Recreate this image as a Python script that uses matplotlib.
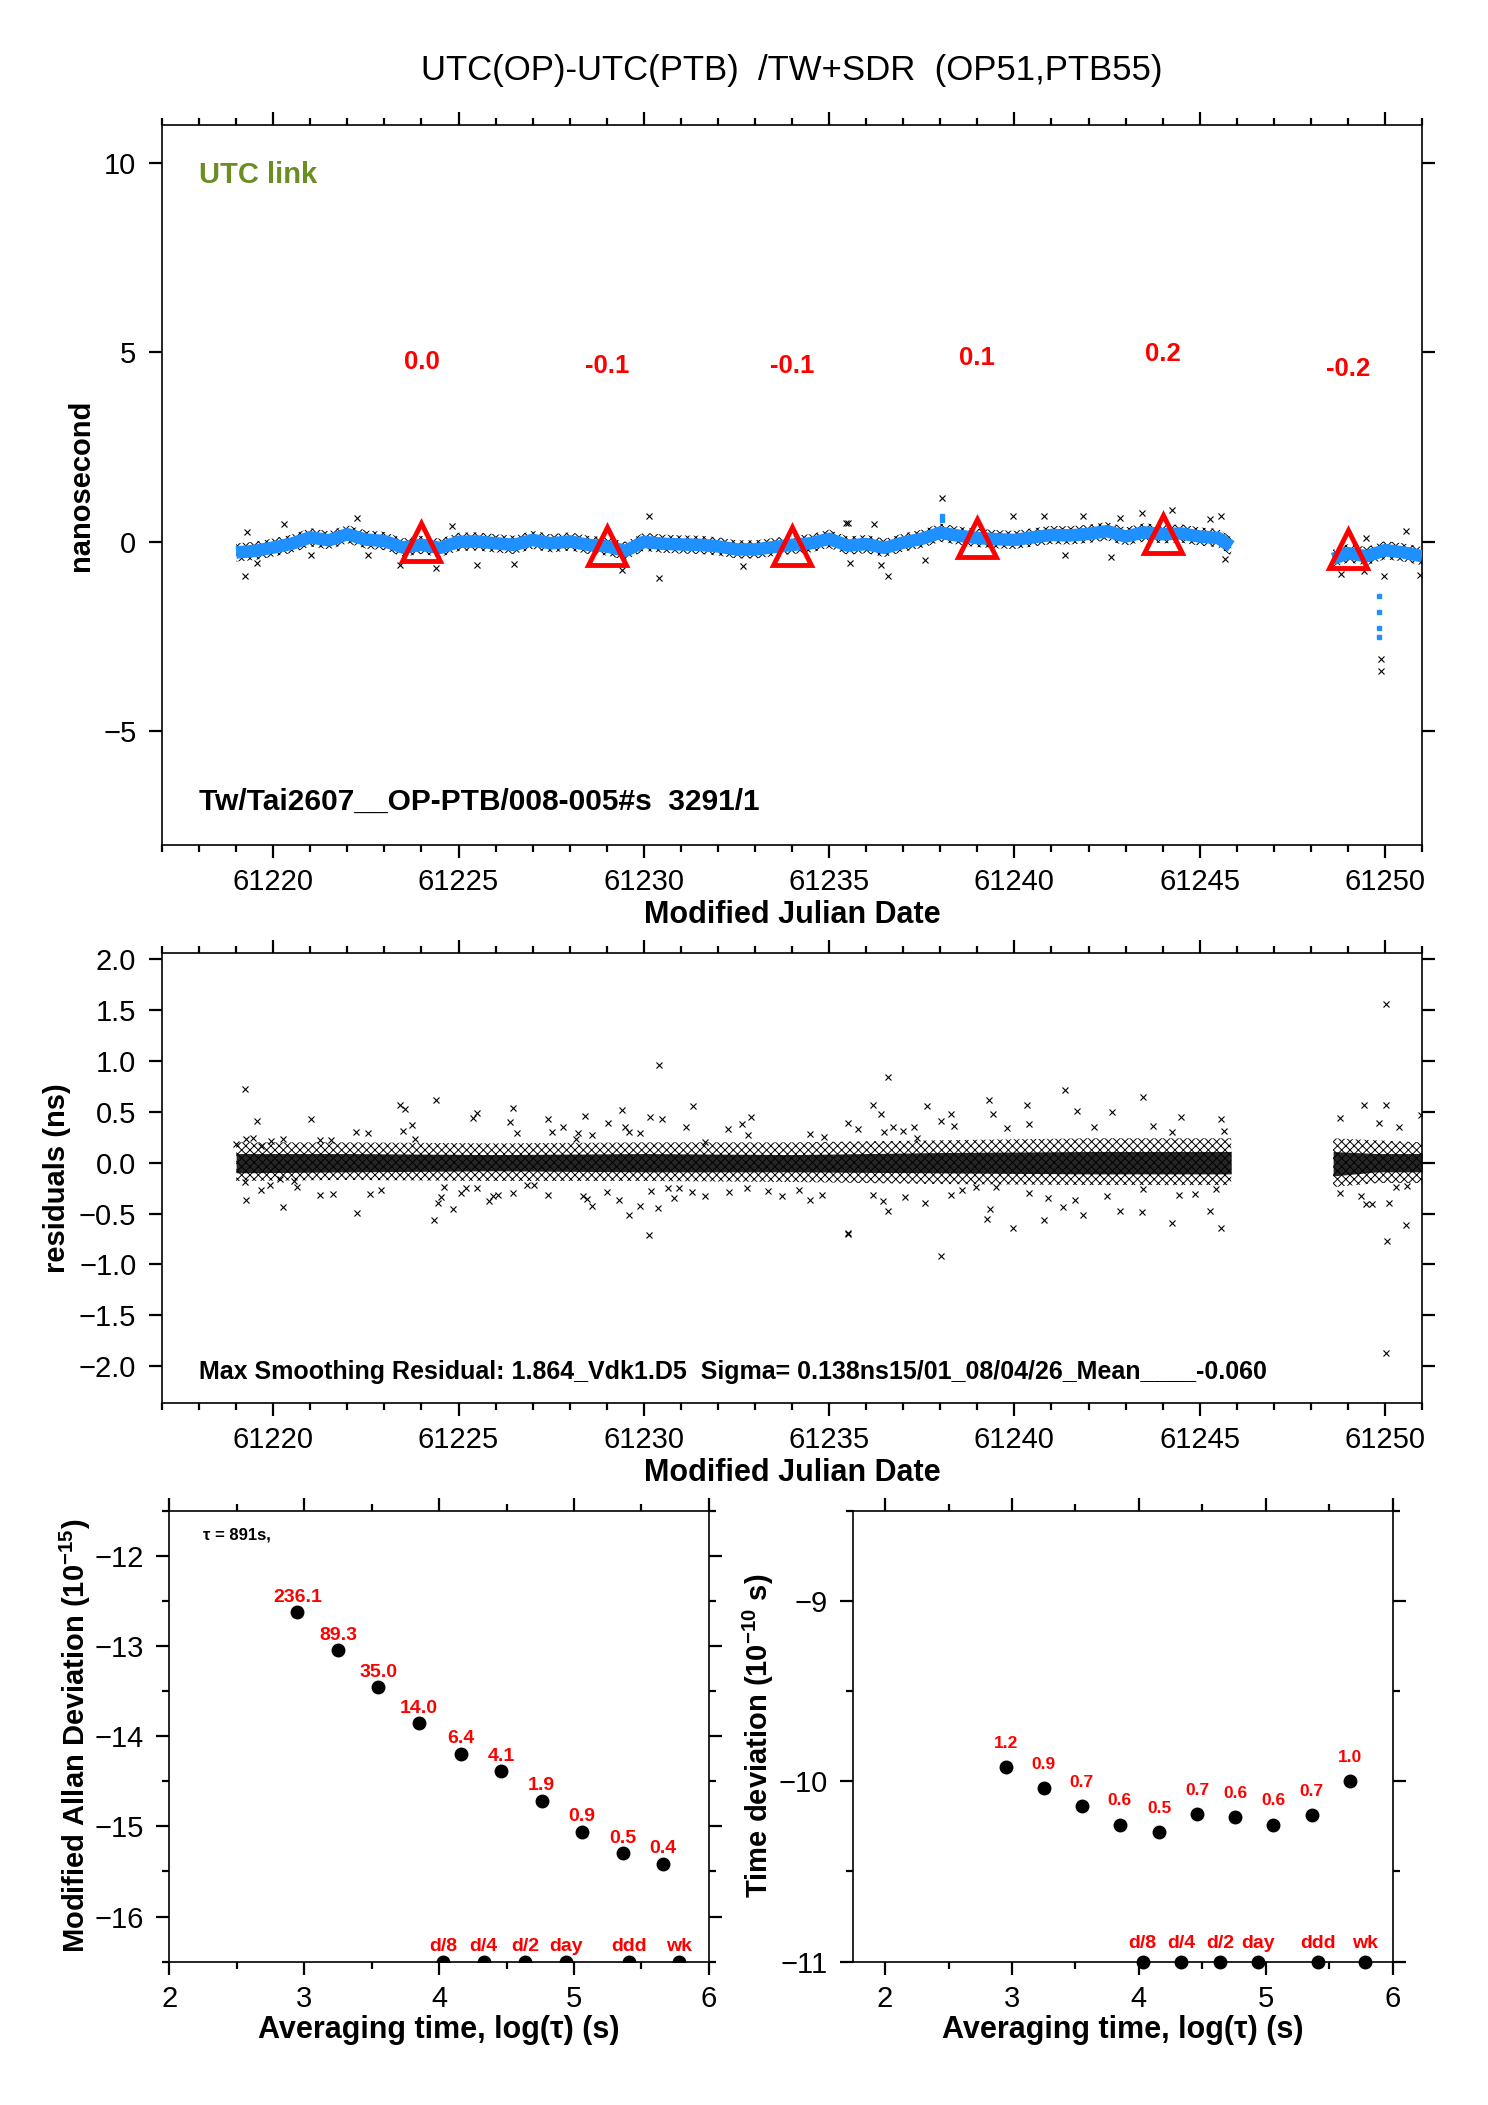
import numpy as np
import matplotlib
matplotlib.use('Agg')
import matplotlib.pyplot as plt
from matplotlib.ticker import MultipleLocator

plt.rcParams['font.family'] = ['Liberation Sans', 'DejaVu Sans']
plt.rcParams['mathtext.fontset'] = 'custom'
plt.rcParams['mathtext.rm'] = 'Liberation Sans'
plt.rcParams['mathtext.bf'] = 'Liberation Sans:bold'
plt.rcParams['hatch.linewidth'] = 0.7

# ---------------- data ----------------
# smoothed UTC(OP)-UTC(PTB) band (ns), two segments
band_mjd_a = [61219.0, 61219.5, 61220.0, 61220.5, 61221.0, 61221.5, 61222.0, 61222.5,
              61223.0, 61223.5, 61224.0, 61224.5, 61225.0, 61225.5, 61226.0, 61226.5,
              61227.0, 61227.5, 61228.0, 61228.5, 61229.0, 61229.5, 61230.0, 61230.5,
              61231.0, 61231.5, 61232.0, 61232.5, 61233.0, 61233.5, 61234.0, 61234.5,
              61235.0, 61235.5, 61236.0, 61236.5, 61237.0, 61237.5, 61238.0, 61238.5,
              61239.0, 61239.5, 61240.0, 61240.5, 61241.0, 61241.5, 61242.0, 61242.5,
              61243.0, 61243.5, 61244.0, 61244.5, 61245.0, 61245.5, 61245.85]
band_ns_a = [-0.28, -0.24, -0.15, -0.05, 0.12, 0.04, 0.20, 0.06,
             0.02, -0.15, -0.08, -0.16, 0.00, 0.01, -0.04, -0.08,
             0.05, -0.04, 0.01, -0.08, -0.12, -0.24, 0.00, -0.05,
             -0.07, -0.08, -0.12, -0.20, -0.20, -0.14, -0.08, -0.04,
             0.08, -0.10, -0.06, -0.16, -0.02, 0.08, 0.24, 0.16,
             0.10, 0.07, 0.05, 0.12, 0.18, 0.17, 0.21, 0.28,
             0.14, 0.25, 0.20, 0.22, 0.14, 0.10, -0.12]
band_mjd_b = [61248.6, 61249.0, 61249.5, 61250.0, 61250.5, 61251.0]
band_ns_b = [-0.45, -0.30, -0.38, -0.22, -0.28, -0.38]
# half-width of the scatter of raw points around the band (ns)
fringe_ns = 0.24

# isolated blue points
blue_mjd = [61238.05, 61238.05, 61249.85, 61249.85, 61249.85, 61249.85]
blue_ns = [0.69, 0.58, -1.44, -1.86, -2.28, -2.52]

# raw points away from the band (ns)
raw_mjd = [61219.23, 61219.29, 61220.29, 61222.27, 61223.42, 61224.40, 61224.82, 61225.50,
           61226.50, 61230.13, 61230.40, 61229.40, 61232.68, 61235.45, 61221.03, 61222.55,
           61219.56, 61235.50, 61235.55, 61236.20, 61236.60, 61236.40, 61237.60, 61238.05,
           61239.97, 61240.80, 61241.36, 61241.84, 61242.60, 61242.86, 61243.44, 61244.25,
           61245.27, 61245.57, 61245.67, 61248.80, 61249.42, 61249.98, 61250.56, 61250.95,
           61249.90, 61249.90, 61249.50]
raw_ns = [-0.90, 0.25, 0.47, 0.62, -0.61, -0.68, 0.43, -0.62,
          -0.59, 0.67, -0.96, -0.74, -0.63, 0.49, -0.34, -0.34,
          -0.56, 0.51, -0.55, 0.47, -0.90, -0.62, -0.47, 1.15,
          0.69, 0.69, -0.34, 0.67, -0.41, 0.64, 0.77, 0.83,
          0.61, 0.67, -0.45, -0.85, -0.76, -0.90, 0.29, -0.87,
          -3.10, -3.42, 0.10]

# 5-day mean values shown as triangles
tri_mjd = [61224, 61229, 61234, 61239, 61244, 61249]
tri_ns = [0.0, -0.1, -0.1, 0.1, 0.2, -0.2]
tri_text = ['0.0', '-0.1', '-0.1', '0.1', '0.2', '-0.2']

# residuals: dense core envelope (ns)
core_mjd_a = [61219.0, 61222.0, 61226.0, 61230.0, 61234.0, 61238.0, 61242.0, 61245.85]
core_hi_a = [0.09, 0.09, 0.08, 0.09, 0.08, 0.10, 0.11, 0.11]
core_lo_a = [-0.10, -0.09, -0.08, -0.09, -0.09, -0.10, -0.11, -0.11]
halo_hi_a = [0.20, 0.20, 0.19, 0.20, 0.20, 0.22, 0.24, 0.24]
halo_lo_a = [-0.18, -0.17, -0.18, -0.18, -0.19, -0.21, -0.22, -0.22]
core_mjd_b = [61248.6, 61249.8, 61251.0]
core_hi_b = [0.11, 0.09, 0.09]
core_lo_b = [-0.13, -0.09, -0.09]
halo_hi_b = [0.24, 0.22, 0.20]
halo_lo_b = [-0.24, -0.20, -0.20]

# residual outliers
res_mjd = [61219.23, 61219.57, 61219.00, 61219.26, 61219.45, 61219.66, 61219.95, 61220.26,
           61219.24, 61219.26, 61219.66, 61219.90, 61220.19, 61220.26, 61220.65, 61220.55,
           61221.27, 61221.61, 61222.27, 61222.60, 61222.91, 61221.01, 61221.25, 61221.55,
           61222.24, 61222.55, 61223.42, 61223.56, 61223.74, 61223.49, 61223.83, 61224.40,
           61224.34, 61224.44, 61224.52, 61224.84, 61224.62, 61225.08, 61225.20, 61225.50,
           61225.40, 61225.50, 61225.82, 61225.94, 61226.06, 61226.40, 61226.48, 61226.58,
           61226.48, 61226.85, 61227.05, 61227.41, 61227.51, 61227.41, 61227.81, 61228.17,
           61228.23, 61228.41, 61228.59, 61228.35, 61228.47, 61228.61, 61229.01, 61229.04,
           61229.40, 61229.49, 61229.61, 61229.91, 61229.34, 61229.61, 61229.91, 61230.13,
           61230.16, 61230.49, 61230.37, 61230.19, 61230.40, 61230.64, 61230.82, 61231.14,
           61231.32, 61230.94, 61231.30, 61231.66, 61231.64, 61232.26, 61232.30, 61232.66,
           61232.90, 61232.80, 61232.78, 61233.34, 61233.74, 61234.19, 61234.49, 61234.82,
           61234.49, 61235.51, 61235.51,
           61234.86, 61235.50, 61235.79, 61236.18, 61236.39, 61236.60, 61236.72, 61236.48,
           61236.99, 61237.29, 61237.36, 61237.63, 61238.02, 61238.29, 61238.38, 61238.02,
           61238.29, 61238.59, 61238.97, 61236.18, 61236.46, 61236.60, 61237.05, 61237.59,
           61239.31, 61239.43, 61239.80, 61240.33, 61240.39, 61239.25, 61239.35, 61239.49,
           61239.97, 61240.39, 61240.81, 61240.91, 61241.36, 61241.68, 61241.30, 61241.63,
           61241.85, 61242.62, 61242.14, 61242.50, 61242.86, 61243.46, 61243.74, 61243.44,
           61243.46, 61244.24, 61244.49, 61244.26, 61244.45, 61244.88, 61245.27, 61245.57,
           61245.65, 61245.57, 61245.45,
           61248.79, 61248.79, 61249.44, 61249.34, 61249.48, 61249.64, 61249.84, 61250.02,
           61250.02, 61250.06, 61250.02, 61250.11, 61250.56, 61250.38, 61250.98, 61250.30,
           61250.59]
res_ns = [0.72, 0.41, 0.18, 0.23, 0.24, 0.16, 0.21, 0.23,
          -0.19, -0.37, -0.27, -0.22, -0.16, -0.44, -0.24, -0.18,
          -0.32, -0.31, -0.49, -0.31, -0.27, 0.43, 0.22, 0.22,
          0.30, 0.29, 0.57, 0.53, 0.37, 0.31, 0.23, 0.62,
          -0.56, -0.40, -0.34, -0.46, -0.24, -0.30, -0.25, -0.25,
          0.44, 0.49, -0.38, -0.33, -0.32, 0.40, 0.54, 0.29,
          -0.30, -0.22, -0.22, 0.43, 0.30, -0.32, 0.35, 0.23,
          0.29, 0.46, 0.27, -0.33, -0.36, -0.43, -0.29, 0.39,
          0.52, 0.35, 0.30, 0.29, -0.37, -0.51, -0.43, -0.71,
          0.45, 0.43, -0.45, -0.28, 0.96, -0.25, -0.35, 0.35,
          0.56, -0.25, -0.29, -0.33, 0.20, 0.33, -0.29, 0.38,
          0.45, 0.27, -0.25, -0.28, -0.33, -0.27, -0.37, -0.32,
          0.28, 0.39, -0.70,
          0.25, -0.69, 0.33, 0.57, 0.48, 0.84, 0.35, 0.30,
          0.31, 0.35, 0.24, 0.56, 0.41, 0.48, 0.36, -0.92,
          -0.32, -0.27, -0.24, -0.32, -0.38, -0.47, -0.34, -0.40,
          0.62, 0.48, 0.34, 0.57, 0.38, -0.55, -0.46, -0.24,
          -0.64, -0.30, -0.56, -0.35, 0.71, 0.51, -0.44, -0.37,
          -0.51, 0.50, 0.35, -0.33, -0.47, 0.65, 0.36, -0.48,
          -0.26, 0.30, 0.45, -0.59, -0.32, -0.31, -0.47, 0.43,
          0.31, -0.64, -0.26,
          0.44, -0.30, 0.57, -0.33, -0.41, -0.41, 0.39, 0.57,
          1.56, -0.77, -1.87, -0.40, -0.61, 0.35, 0.47, -0.24,
          -0.23]

# stability: log10(tau), log10(mod ADEV), log10(TDEV)
log_tau = [2.95, 3.25, 3.55, 3.85, 4.16, 4.46, 4.76, 5.06, 5.36, 5.66]
log_mdev = [-12.63, -13.05, -13.46, -13.86, -14.20, -14.39, -14.72, -15.06, -15.30, -15.42]
mdev_text = ['236.1', '89.3', '35.0', '14.0', '6.4', '4.1', '1.9', '0.9', '0.5', '0.4']
log_tdev = [-9.92, -10.04, -10.14, -10.24, -10.28, -10.18, -10.20, -10.24, -10.19, -10.00]
tdev_text = ['1.2', '0.9', '0.7', '0.6', '0.5', '0.7', '0.6', '0.6', '0.7', '1.0']
span_log = [4.03, 4.33, 4.64, 4.94, 5.41, 5.78]
span_text = ['d/8', 'd/4', 'd/2', 'day', 'ddd', 'wk']

RED = '#FF0000'
BLUE = '#1E90FF'
OLIVE = '#6B8E23'


def style(ax, xmaj, xmin, ymaj, ymin=None):
    ax.xaxis.set_major_locator(MultipleLocator(xmaj))
    ax.xaxis.set_minor_locator(MultipleLocator(xmin))
    ax.yaxis.set_major_locator(MultipleLocator(ymaj))
    if ymin:
        ax.yaxis.set_minor_locator(MultipleLocator(ymin))
    ax.tick_params(which='both', direction='out', top=True, right=True,
                   width=1.6, labelsize=21)
    ax.tick_params(which='major', length=9.5)
    ax.tick_params(which='minor', length=5)
    ax.tick_params(axis='x', pad=7)
    ax.tick_params(axis='y', pad=9)
    for s in ax.spines.values():
        s.set_linewidth(1.2)


fig = plt.figure(figsize=(14.88, 21.05), dpi=100)

# ---------------- top: time series ----------------
ax1 = fig.add_axes([0.1089, 0.5986, 0.8468, 0.3420])
for mx, my in ((band_mjd_a, band_ns_a), (band_mjd_b, band_ns_b)):
    my = np.array(my)
    ax1.fill_between(mx, my - fringe_ns, my + fringe_ns, facecolor='none', edgecolor='k',
                     hatch='xxxx', linewidth=0, zorder=2)
    ax1.plot(mx, my, color=BLUE, lw=9, solid_capstyle='butt', zorder=3)
ax1.plot(raw_mjd, raw_ns, 'x', color='k', ms=5, mew=0.8, ls='none', zorder=2)
ax1.plot(blue_mjd, blue_ns, 's', color=BLUE, ms=2.5, ls='none', zorder=3)
ax1.plot(tri_mjd, tri_ns, '^', ms=27, mfc='none', mec=RED, mew=3.5, ls='none', zorder=4)
for x, v, t in zip(tri_mjd, tri_ns, tri_text):
    ax1.text(x, 4.75 + v, t, color=RED, fontsize=18.5, fontweight='bold',
             ha='center', va='center')
ax1.text(0.029, 0.93, 'UTC link', transform=ax1.transAxes, color=OLIVE,
         fontsize=21, fontweight='bold', ha='left', va='center')
ax1.text(0.029, 0.06, 'Tw/Tai2607__OP-PTB/008-005#s  3291/1', transform=ax1.transAxes,
         fontsize=21.5, fontweight='bold', ha='left', va='center')
ax1.set_xlim(61217, 61251)
ax1.set_ylim(-8, 11)
style(ax1, 5, 1, 5)
ax1.set_xlabel('Modified Julian Date', fontsize=22, fontweight='bold', labelpad=3)
ax1.set_ylabel('nanosecond', fontsize=21, fontweight='bold', labelpad=6)

fig.text(0.532, 0.9667, 'UTC(OP)-UTC(PTB)  /TW+SDR  (OP51,PTB55)', fontsize=25,
         ha='center', va='center')

# ---------------- middle: residuals ----------------
ax2 = fig.add_axes([0.1089, 0.3336, 0.8468, 0.2136])
for mx, hh, hl, ch, cl in ((core_mjd_a, halo_hi_a, halo_lo_a, core_hi_a, core_lo_a),
                           (core_mjd_b, halo_hi_b, halo_lo_b, core_hi_b, core_lo_b)):
    ax2.fill_between(mx, hl, hh, facecolor='none', edgecolor='k', hatch='xxxx',
                     linewidth=0, zorder=2)
    ax2.fill_between(mx, cl, ch, color='k', alpha=0.85, linewidth=0, zorder=3)
ax2.plot(res_mjd, res_ns, 'x', color='k', ms=5, mew=0.8, ls='none', zorder=4)
ax2.text(0.029, 0.068,
         'Max Smoothing Residual: 1.864_Vdk1.D5  Sigma= 0.138ns15/01_08/04/26_Mean____-0.060',
         transform=ax2.transAxes, fontsize=18, fontweight='bold', ha='left', va='center')
ax2.set_xlim(61217, 61251)
ax2.set_ylim(-2.36, 2.06)
style(ax2, 5, 1, 0.5)
ax2.set_xlabel('Modified Julian Date', fontsize=22, fontweight='bold', labelpad=3)
ax2.set_ylabel('residuals (ns)', fontsize=21, fontweight='bold', labelpad=6)

# ---------------- bottom left: modified Allan deviation ----------------
ax3 = fig.add_axes([0.1138, 0.0681, 0.3626, 0.2143])
ax3.plot(log_tau, log_mdev, 'o', color='k', ms=9, ls='none')
for x, y, t in zip(log_tau, log_mdev, mdev_text):
    ax3.annotate(t, (x, y), xytext=(0, 11), textcoords='offset points', color=RED,
                 fontsize=14, fontweight='bold', ha='center', va='center')
ax3.plot(span_log, [0] * len(span_log), 'o', color='k', ms=9, ls='none',
         transform=ax3.get_xaxis_transform(), clip_on=True)
for x, t in zip(span_log, span_text):
    ax3.annotate(t, (x, 0), xycoords=ax3.get_xaxis_transform(), xytext=(0, 11),
                 textcoords='offset points', color=RED, fontsize=14,
                 fontweight='bold', ha='center', va='center')
ax3.text(0.062, 0.945, '\u03c4 = 891s,', transform=ax3.transAxes, fontsize=12,
         fontweight='bold', ha='left', va='center')
ax3.set_xlim(2, 6)
ax3.set_ylim(-16.5, -11.5)
style(ax3, 1, 0.5, 1, 0.5)
ax3.set_xlabel('Averaging time, log(\u03c4) (s)', fontsize=22, fontweight='bold', labelpad=2)
ax3.set_ylabel(r'Modified Allan Deviation (10$^{\mathbf{-15}}$)', fontsize=21,
               fontweight='bold', labelpad=1)

# ---------------- bottom right: time deviation ----------------
ax4 = fig.add_axes([0.5735, 0.0681, 0.3625, 0.2143])
ax4.plot(log_tau, log_tdev, 'o', color='k', ms=9, ls='none')
for x, y, t in zip(log_tau, log_tdev, tdev_text):
    ax4.annotate(t, (x, y), xytext=(0, 17), textcoords='offset points', color=RED,
                 fontsize=12.5, fontweight='bold', ha='center', va='center')
ax4.plot(span_log, [0] * len(span_log), 'o', color='k', ms=9, ls='none',
         transform=ax4.get_xaxis_transform(), clip_on=False)
for x, t in zip(span_log, span_text):
    ax4.annotate(t, (x, 0), xycoords=ax4.get_xaxis_transform(), xytext=(0, 13),
                 textcoords='offset points', color=RED, fontsize=14,
                 fontweight='bold', ha='center', va='center')
ax4.set_xlim(1.75, 6)
ax4.set_ylim(-11, -8.5)
style(ax4, 1, 0.5, 1, 0.5)
ax4.set_xlabel('Averaging time, log(\u03c4) (s)', fontsize=22, fontweight='bold', labelpad=2)
ax4.set_ylabel(r'Time deviation (10$^{\mathbf{-10}}$ s)', fontsize=21,
               fontweight='bold', labelpad=2)

fig.savefig('out.png', dpi=100)
